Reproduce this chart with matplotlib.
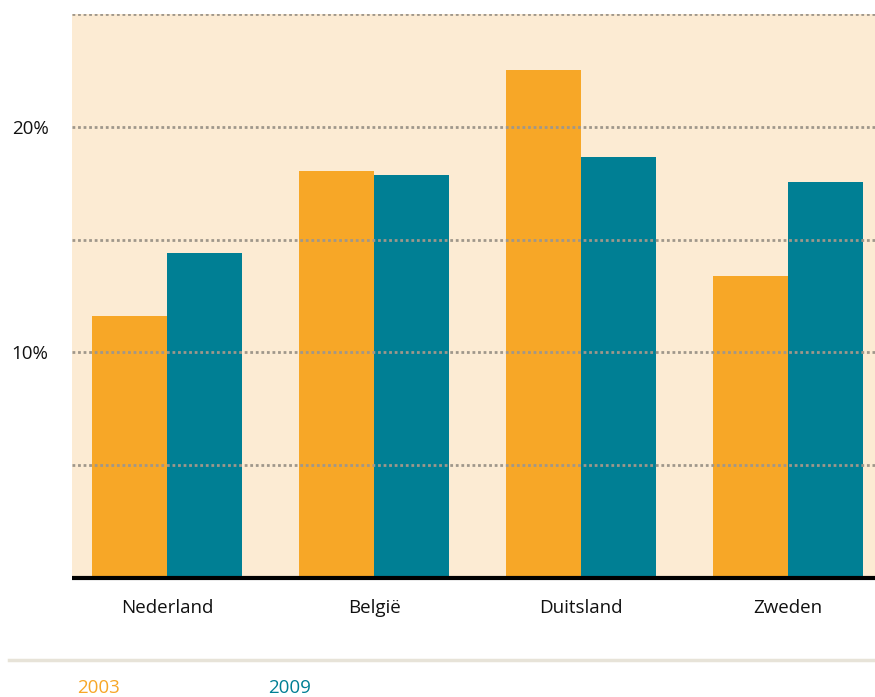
import matplotlib.pyplot as plt
from matplotlib.lines import Line2D
import numpy as np

countries = ["Nederland", "België", "Duitsland", "Zweden"]
v2003 = [11.6, 18.05, 22.5, 13.4]
v2009 = [14.4, 17.85, 18.65, 17.55]
series_labels = ["2003", "2009"]
ytick_vals = [5, 10, 15, 20, 25]
ytick_labels = ["", "10%", "", "20%", ""]

ORANGE = "#f7a727"
TEAL = "#007f94"
BG = "#fcebd3"
GRID = "#9f978b"

plt.rcParams["font.family"] = ["Open Sans", "DejaVu Sans"]

W, H = 875, 697
FS = 13.5
fig = plt.figure(figsize=(W / 100, H / 100), dpi=100)
ax = fig.add_axes([72 / W, (H - 578) / H, (W - 72) / W, (578 - 14) / H])
ax.set_facecolor(BG)

x = np.arange(len(countries))
bw = 75 / 207
ax.bar(x - bw / 2, v2003, width=bw, color=ORANGE, zorder=2)
ax.bar(x + bw / 2, v2009, width=bw, color=TEAL, zorder=2)

for y in ytick_vals:
    ax.axhline(y, color=GRID, lw=2, ls=(0, (1, 1)), zorder=3)

ax.set_xlim(-95 / 207, 3 + 87 / 207)
ax.set_ylim(0, 25)
ax.set_yticks(ytick_vals)
ax.set_yticklabels(ytick_labels)
ax.set_xticks(x)
ax.set_xticklabels(countries)
ax.tick_params(axis="both", length=0, labelsize=FS, colors="#111111")
ax.tick_params(axis="x", pad=15)
ax.tick_params(axis="y", pad=17)
for s in ["top", "right", "left"]:
    ax.spines[s].set_visible(False)
ax.spines["bottom"].set_linewidth(3)
ax.spines["bottom"].set_color("black")
ax.spines["bottom"].set_capstyle("butt")
ax.spines["bottom"].set_zorder(4)

fig.add_artist(Line2D([9 / W, 1], [(H - 660) / H] * 2, color="#e7e3d8", lw=2.5,
                      transform=fig.transFigure))
fig.text(77 / W, (H - 688) / H, series_labels[0], color=ORANGE, fontsize=FS,
         va="center", ha="left")
fig.text(268 / W, (H - 688) / H, series_labels[1], color=TEAL, fontsize=FS,
         va="center", ha="left")

fig.savefig("out.png", dpi=100)
